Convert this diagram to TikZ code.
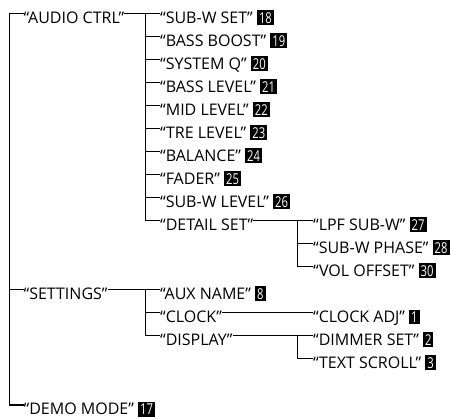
\documentclass[tikz,border=0pt]{standalone}
\usepackage{fontspec}
\setmainfont{Open Sans}
\newfontfamily\numfont{Open Sans}[FakeStretch=0.75]
\newcommand{\numbox}[1]{{\setlength{\fboxsep}{2pt}\colorbox{black}{\fontsize{15}{15}\numfont\textcolor{white}{#1}}}}
\tikzset{
  item/.style={anchor=west, inner sep=0pt, text height=19.5pt, text depth=0pt,
               font=\fontsize{16}{20}\selectfont},
  tree/.style={line width=1.2pt}
}
\begin{document}
\begin{tikzpicture}[x=1pt, y=-1pt]
\useasboundingbox (0,0) rectangle (450,419);

\coordinate (t1) at (9.5,0);
\coordinate (t2) at (145.5,0);
\coordinate (t3) at (297.5,0);

\node[item] (audio) at (23.5,13.5) {“AUDIO CTRL”};
\node[item] (settings) at (23.5,289.5) {“SETTINGS”};
\node[item] (demo) at (23.5,405) {“DEMO MODE” \numbox{17}};

\node[item] (subwset) at (160,13.5) {“SUB-W SET” \numbox{18}};
\node[item] (bassboost) at (160,36.5) {“BASS BOOST” \numbox{19}};
\node[item] (systemq) at (160,59.5) {“SYSTEM Q” \numbox{20}};
\node[item] (basslevel) at (160,82.5) {“BASS LEVEL” \numbox{21}};
\node[item] (midlevel) at (160,105.5) {“MID LEVEL” \numbox{22}};
\node[item] (trelevel) at (160,128.5) {“TRE LEVEL” \numbox{23}};
\node[item] (balance) at (160,151.5) {“BALANCE” \numbox{24}};
\node[item] (fader) at (160,174.5) {“FADER” \numbox{25}};
\node[item] (subwlevel) at (160,197.5) {“SUB-W LEVEL” \numbox{26}};
\node[item] (detail) at (160,220.5) {“DETAIL SET”};

\node[item] (lpf) at (313,220.5) {“LPF SUB-W” \numbox{27}};
\node[item] (phase) at (313,243.5) {“SUB-W PHASE” \numbox{28}};
\node[item] (voloffset) at (313,266.5) {“VOL OFFSET” \numbox{30}};

\node[item] (auxname) at (160,289.5) {“AUX NAME” \numbox{8}};
\node[item] (clock) at (160,312.5) {“CLOCK”};
\node[item] (display) at (160,335.5) {“DISPLAY”};

\node[item] (clockadj) at (313,312.5) {“CLOCK ADJ” \numbox{1}};
\node[item] (dimmer) at (313,335.5) {“DIMMER SET” \numbox{2}};
\node[item] (textscroll) at (313,358.5) {“TEXT SCROLL” \numbox{3}};

% main trunk
\draw[tree] (audio.west) -- (audio.west -| t1) |- (demo.west);
\draw[tree] (t1 |- settings.west) -- (settings.west);

% audio ctrl
\draw[tree] (audio.east) -- (subwset.west);
\draw[tree] (audio.east -| t2) |- (detail.west);
\draw[tree] (t2 |- bassboost.west) -- (bassboost.west);
\draw[tree] (t2 |- systemq.west) -- (systemq.west);
\draw[tree] (t2 |- basslevel.west) -- (basslevel.west);
\draw[tree] (t2 |- midlevel.west) -- (midlevel.west);
\draw[tree] (t2 |- trelevel.west) -- (trelevel.west);
\draw[tree] (t2 |- balance.west) -- (balance.west);
\draw[tree] (t2 |- fader.west) -- (fader.west);
\draw[tree] (t2 |- subwlevel.west) -- (subwlevel.west);

% detail set
\draw[tree] (detail.east) -- (lpf.west);
\draw[tree] (detail.east -| t3) |- (voloffset.west);
\draw[tree] (t3 |- phase.west) -- (phase.west);

% settings
\draw[tree] (settings.east) -- (auxname.west);
\draw[tree] (settings.east -| t2) |- (display.west);
\draw[tree] (t2 |- clock.west) -- (clock.west);
\draw[tree] (clock.east) -- (clockadj.west);
\draw[tree] (display.east) -- (dimmer.west);
\draw[tree] (display.east -| t3) |- (textscroll.west);
\end{tikzpicture}
\end{document}
